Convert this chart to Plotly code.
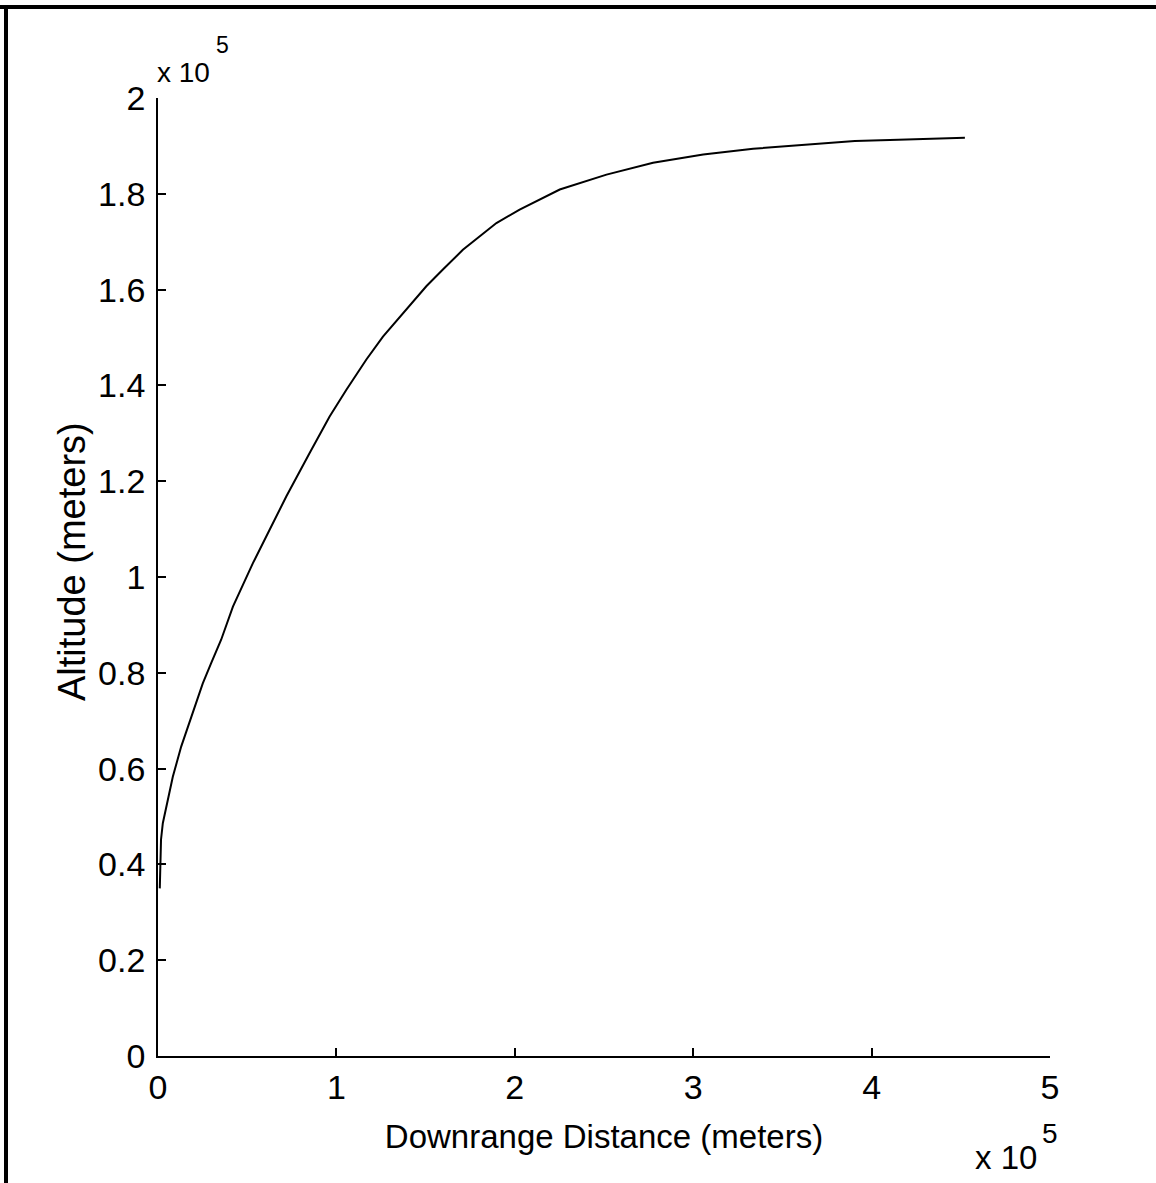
import plotly.graph_objects as go

# Trajectory (meters)
downrange_m = [1000, 1400, 1700, 2700, 5500, 8300, 13000, 18600, 25100, 29800, 35400, 42000,
               53200, 62500, 71900, 85000, 96200, 105600, 116800, 126100, 137300, 150400,
               159700, 170900, 189700, 202700, 225200, 251400, 277500, 305600, 333600,
               367200, 390600, 415000, 437400, 452300]
altitude_m = [35000, 42000, 45200, 48600, 53400, 58300, 64600, 70800, 77800, 82000, 86900, 93800,
              102900, 109800, 116800, 125900, 133500, 139100, 145400, 150200, 155100, 160700,
              164200, 168300, 173900, 176700, 180900, 184000, 186500, 188200, 189400,
              190300, 191000, 191300, 191500, 191700]

x_tickvals = [0, 100000, 200000, 300000, 400000, 500000]
x_ticktext = ["0", "1", "2", "3", "4", "5"]
y_tickvals = [0, 20000, 40000, 60000, 80000, 100000, 120000, 140000, 160000, 180000, 200000]
y_ticktext = ["0", "0.2", "0.4", "0.6", "0.8", "1", "1.2", "1.4", "1.6", "1.8", "2"]

FONT = "Liberation Sans, Arial, sans-serif"

fig = go.Figure()
fig.add_trace(go.Scatter(x=downrange_m, y=altitude_m, mode="lines",
                         line=dict(color="black", width=2), showlegend=False,
                         hoverinfo="skip"))

W, H = 1156, 1183
L, R, T, B = 158, 106, 98, 127
pw, ph = W - L - R, H - T - B

axis_common = dict(showgrid=False, zeroline=False, showline=True, linecolor="black",
                   linewidth=1.8, ticks="inside", ticklen=8, tickwidth=1.8,
                   tickcolor="black", mirror=False,
                   tickfont=dict(family=FONT, size=34, color="black"))

fig.update_xaxes(range=[0, 500000], tickvals=x_tickvals, ticktext=x_ticktext,
                 title=dict(text="Downrange Distance (meters)", standoff=20,
                            font=dict(family=FONT, size=33, color="black")),
                 ticklabelstandoff=0, **axis_common)
fig.update_yaxes(range=[0, 200000], tickvals=y_tickvals, ticktext=y_ticktext,
                 ticklabelstandoff=4, **axis_common)

def px_x(p):
    return (p - L) / pw

def px_y(p):
    return 1 - (p - T) / ph

def note(text, xpx, ypx, size, angle=0, xanchor="left"):
    return dict(text=text, xref="paper", yref="paper", x=px_x(xpx), y=px_y(ypx),
                xanchor=xanchor, yanchor="middle", showarrow=False, textangle=angle,
                font=dict(family=FONT, size=size, color="black"))

fig.update_layout(
    width=W, height=H,
    margin=dict(l=L, r=R, t=T, b=B, pad=0),
    plot_bgcolor="white", paper_bgcolor="white",
    font=dict(family=FONT, color="black"),
    shapes=[
        dict(type="line", xref="paper", yref="paper", x0=px_x(-5), x1=px_x(W + 5),
             y0=px_y(7), y1=px_y(7), line=dict(color="black", width=4)),
        dict(type="line", xref="paper", yref="paper", x0=px_x(6), x1=px_x(6),
             y0=px_y(5), y1=px_y(H + 5), line=dict(color="black", width=4)),
    ],
    annotations=[
        note("Altitude (meters)", 72, 562, 38, angle=-90, xanchor="center"),
        note("x 10", 155, 72, 28),
        note("5", 214, 45, 23),
        note("x 10", 973, 1157, 33),
        note("5", 1040, 1133, 28),
    ],
)

fig.write_html("out.html")
